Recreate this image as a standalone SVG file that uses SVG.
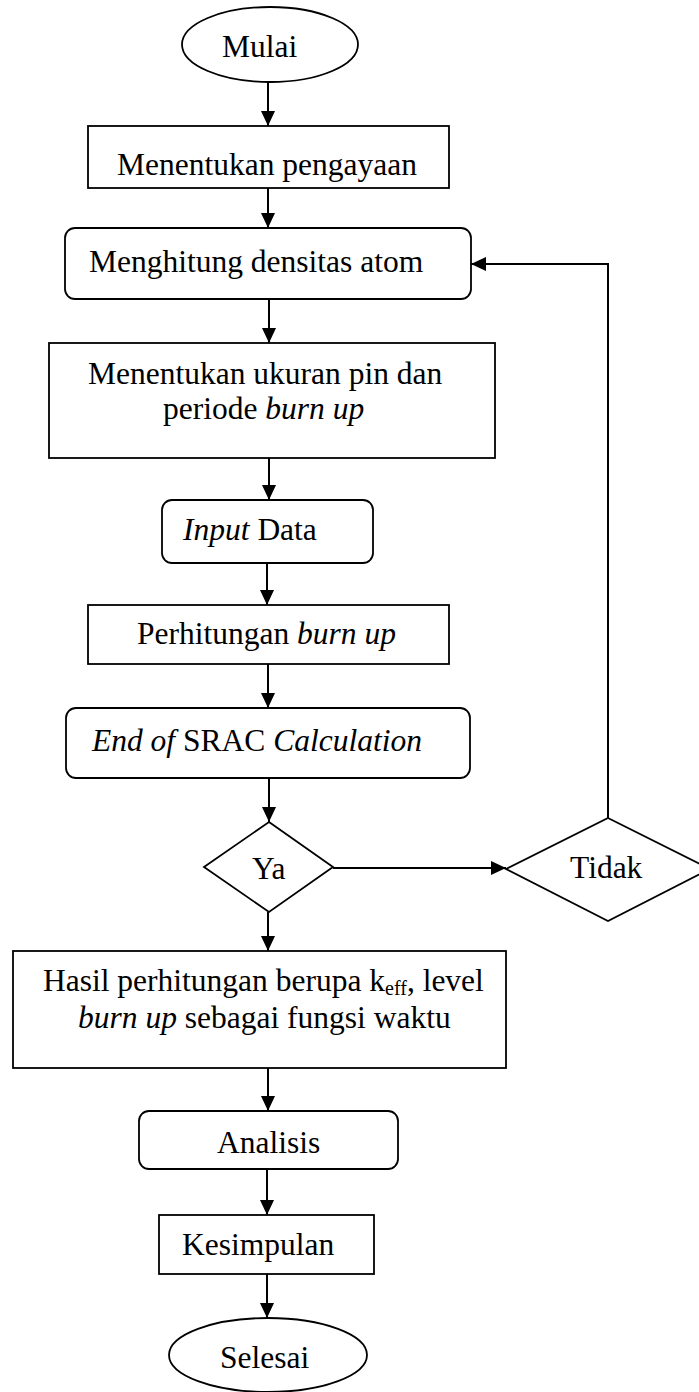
<svg xmlns="http://www.w3.org/2000/svg" width="699" height="1392" viewBox="0 0 699 1392">
<defs>
<marker id="ah" markerWidth="15" markerHeight="14" refX="15" refY="7" orient="auto" markerUnits="userSpaceOnUse">
<path d="M0,0 L15,7 L0,14 Z" fill="#000"/>
</marker>
<style>
.s{fill:#fff;stroke:#000;stroke-width:1.8}
.t{font-family:"Liberation Serif","Times New Roman",serif;font-size:31.5px;fill:#000}
.i{font-style:italic}
.c{fill:none;stroke:#000;stroke-width:2}
</style>
</defs>
<rect width="699" height="1392" fill="#fff"/>
<g id="connectors">
<line class="c" x1="268" y1="82" x2="268" y2="126" marker-end="url(#ah)"/>
<line class="c" x1="268" y1="188" x2="268" y2="228" marker-end="url(#ah)"/>
<line class="c" x1="269" y1="299" x2="269" y2="343" marker-end="url(#ah)"/>
<line class="c" x1="269" y1="458" x2="269" y2="500" marker-end="url(#ah)"/>
<line class="c" x1="267" y1="563" x2="267" y2="605" marker-end="url(#ah)"/>
<line class="c" x1="268" y1="664" x2="268" y2="708" marker-end="url(#ah)"/>
<line class="c" x1="269" y1="778" x2="269" y2="822" marker-end="url(#ah)"/>
<line class="c" x1="333" y1="868" x2="506" y2="868" marker-end="url(#ah)"/>
<polyline class="c" points="608,818 608,264 471,264" marker-end="url(#ah)"/>
<line class="c" x1="268" y1="912" x2="268" y2="951" marker-end="url(#ah)"/>
<line class="c" x1="268" y1="1068" x2="268" y2="1111" marker-end="url(#ah)"/>
<line class="c" x1="267" y1="1169" x2="267" y2="1215" marker-end="url(#ah)"/>
<line class="c" x1="267" y1="1274" x2="267" y2="1318" marker-end="url(#ah)"/>
</g>
<g id="mulai"><ellipse class="s" cx="270" cy="44.5" rx="88" ry="37.5"/><text class="t" x="222" y="57">Mulai</text></g>
<g id="pengayaan"><rect class="s" x="88" y="126" width="361" height="62"/><text class="t" x="117" y="175">Menentukan pengayaan</text></g>
<g id="densitas"><rect class="s" x="65" y="228" width="406" height="71" rx="10"/><text class="t" x="89" y="272">Menghitung densitas atom</text></g>
<g id="ukuran"><rect class="s" x="49" y="343" width="446" height="115"/><text class="t" x="88" y="384">Menentukan ukuran pin dan</text><text class="t" x="163" y="419">periode <tspan class="i">burn up</tspan></text></g>
<g id="input"><rect class="s" x="162" y="500" width="211" height="63" rx="10"/><text class="t" x="183" y="540"><tspan class="i">Input</tspan> Data</text></g>
<g id="perhitungan"><rect class="s" x="88" y="605" width="361" height="59"/><text class="t" x="137" y="644">Perhitungan <tspan class="i">burn up</tspan></text></g>
<g id="endsrac"><rect class="s" x="66" y="708" width="404" height="70" rx="10"/><text class="t" x="92" y="751"><tspan class="i">End of</tspan> SRAC <tspan class="i">Calculation</tspan></text></g>
<g id="ya"><polygon class="s" points="269,822 333,867 269,912 204,867"/><text class="t" x="252" y="879">Ya</text></g>
<g id="tidak"><polygon class="s" points="608,818 710,869 608,921 506,869"/><text class="t" x="570" y="878">Tidak</text></g>
<g id="hasil"><rect class="s" x="13" y="951" width="493" height="117"/><text class="t" x="43" y="991">Hasil perhitungan berupa k<tspan font-size="20" dy="4">eff</tspan><tspan dy="-4">, level</tspan></text><text class="t" x="78" y="1028"><tspan class="i">burn up</tspan> sebagai fungsi waktu</text></g>
<g id="analisis"><rect class="s" x="139" y="1111" width="259" height="58" rx="10"/><text class="t" x="217" y="1153">Analisis</text></g>
<g id="kesimpulan"><rect class="s" x="159" y="1215" width="215" height="59"/><text class="t" x="182" y="1255">Kesimpulan</text></g>
<g id="selesai"><ellipse class="s" cx="268" cy="1355" rx="99" ry="37"/><text class="t" x="220" y="1368">Selesai</text></g>
</svg>
